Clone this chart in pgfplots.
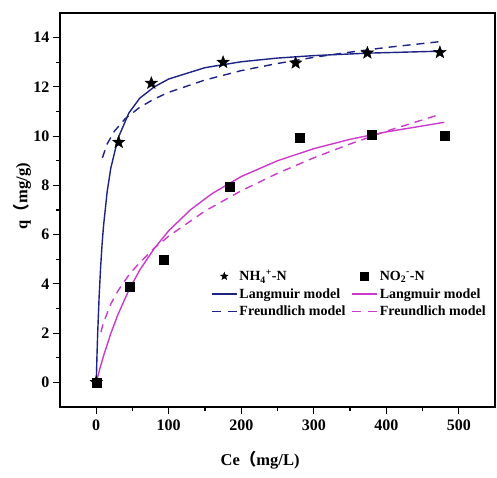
\documentclass[border=0pt]{standalone}
\usepackage{fontspec}
\setmainfont{Liberation Serif}
\newfontfamily\cjk{Noto Sans CJK SC}
\usepackage{pgfplots}
\pgfplotsset{compat=1.18}
\usetikzlibrary{calc}
\definecolor{nhblue}{HTML}{1C2385}
\definecolor{nomag}{HTML}{CC3ACC}

% filled five-pointed star
\pgfdeclareplotmark{fstar}{%
  \pgfpathmoveto{\pgfqpointpolar{90}{\pgfplotmarksize}}%
  \pgfpathlineto{\pgfqpointpolar{126}{0.42\pgfplotmarksize}}%
  \pgfpathlineto{\pgfqpointpolar{162}{\pgfplotmarksize}}%
  \pgfpathlineto{\pgfqpointpolar{198}{0.42\pgfplotmarksize}}%
  \pgfpathlineto{\pgfqpointpolar{234}{\pgfplotmarksize}}%
  \pgfpathlineto{\pgfqpointpolar{270}{0.42\pgfplotmarksize}}%
  \pgfpathlineto{\pgfqpointpolar{306}{\pgfplotmarksize}}%
  \pgfpathlineto{\pgfqpointpolar{342}{0.42\pgfplotmarksize}}%
  \pgfpathlineto{\pgfqpointpolar{18}{\pgfplotmarksize}}%
  \pgfpathlineto{\pgfqpointpolar{54}{0.42\pgfplotmarksize}}%
  \pgfpathclose
  \pgfusepathqfillstroke}

\pgfplotstableread{
x y
0 0
31 9.75
76 12.15
175 13.0
275 12.97
374 13.38
474 13.4
}\nhdata
\pgfplotstableread{
x y
0 0
46 3.88
93.5 5.0
184 7.95
280 9.95
380 10.05
480 10.03
}\nodata
\pgfplotstableread{
x y
0 0
1 1.08
2 2.01
4 3.50
6 4.66
8 5.59
10 6.34
15 7.73
20 8.69
30 9.91
45 10.94
60 11.54
80 12.00
100 12.32
150 12.78
200 13.02
250 13.17
300 13.27
375 13.37
475 13.45
}\nhlang
\pgfplotstableread{
x y
8.5 9.12
15 9.68
25 10.20
40 10.71
60 11.17
80 11.51
100 11.78
150 12.28
200 12.66
250 12.95
300 13.20
350 13.41
400 13.60
475 13.84
}\nhfreu
\pgfplotstableread{
x y
0 0
5 0.56
10 1.07
20 1.98
30 2.76
45 3.75
60 4.56
80 5.44
100 6.16
130 7.01
160 7.67
200 8.36
250 9.00
300 9.49
350 9.87
400 10.17
480 10.56
}\nolang
\pgfplotstableread{
x y
6.4 2.04
10 2.43
20 3.18
30 3.72
45 4.36
60 4.87
80 5.45
100 5.94
150 6.96
200 7.78
250 8.49
300 9.12
350 9.68
400 10.20
475 10.89
}\nofreu

\begin{document}
\begin{tikzpicture}
\begin{axis}[
  width=435pt, height=394pt, scale only axis,
  xmin=-50, xmax=550, ymin=-1, ymax=15,
  xtick={0,100,...,500}, ytick={0,2,...,14},
  minor x tick num=1, minor y tick num=1,
  xtick pos=left, ytick pos=left,
  tick align=outside,
  major tick length=7pt, minor tick length=4pt,
  axis line style={line width=1.3pt},
  every tick/.style={line width=1.1pt, black},
  /pgf/number format/assume math mode=true,
  ticklabel style={font=\fontsize{16}{19}\selectfont\bfseries},
  xticklabel style={yshift=-2pt},
  label style={font=\fontsize{16.5}{20}\selectfont\bfseries},
  xlabel={Ce{\cjk （}mg/L)},
  ylabel={q{\cjk （}mg/g)},
  xlabel style={at={(axis description cs:0.46,-0.135)}, anchor=center},
  ylabel style={at={(axis description cs:-0.087,0.535)}, anchor=center},
  legend columns=2,
  legend cell align=left,
  legend style={at={(0.34,0.358)}, anchor=north west, draw=none, fill=none,
    font=\fontsize{14}{17}\selectfont\bfseries, row sep=2pt,
    /tikz/every even column/.append style={column sep=4pt}},
  linelegend/.style={legend image code/.code={\draw[##1] (0pt,0pt) -- (25pt,0pt);}},
  dashlegend/.style={legend image code/.code={\draw[##1, dash pattern=on 9pt off 7pt] (0pt,0pt) -- (25pt,0pt);}},
  marklegend/.style={legend image code/.code={\draw[mark repeat=2,mark phase=2,##1,mark size=4pt] plot coordinates {(0pt,0pt)(12.5pt,0pt)(25pt,0pt)};}},
]
\addplot[only marks, mark=fstar, mark size=6.5pt, black, mark options={line width=0.4pt}, marklegend] table {\nhdata};
\addlegendentry{NH\textsubscript{4}\textsuperscript{+}-N}
\addplot[only marks, mark=square*, mark size=4.5pt, black, marklegend] table {\nodata};
\addlegendentry{NO\textsubscript{2}\textsuperscript{-}-N}
\addplot[nhblue, line width=1.4pt, linelegend] table {\nhlang};
\addlegendentry{Langmuir model}
\addplot[nomag, line width=1.4pt, linelegend] table {\nolang};
\addlegendentry{Langmuir model}
\addplot[nhblue, line width=1.4pt, dash pattern=on 8pt off 6pt, dashlegend] table {\nhfreu};
\addlegendentry{Freundlich model}
\addplot[nomag, line width=1.4pt, dash pattern=on 8pt off 6pt, dashlegend] table {\nofreu};
\addlegendentry{Freundlich model}
\end{axis}
\pgfresetboundingbox
\path[use as bounding box] ($(current axis.south west)+(-60pt,-70pt)$) rectangle ($(current axis.north east)+(2pt,13pt)$);
\end{tikzpicture}
\end{document}
